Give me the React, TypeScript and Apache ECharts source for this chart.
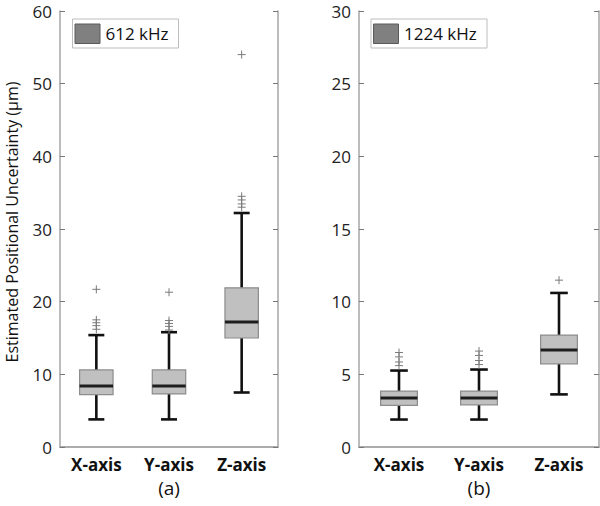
import React, { useEffect, useRef } from "react";
import * as echarts from "echarts";

const categories = ["X-axis", "Y-axis", "Z-axis"];

// [min, q1, median, q3, max]
const box612 = [
  [3.8, 7.2, 8.4, 10.6, 15.4],
  [3.8, 7.3, 8.4, 10.6, 15.8],
  [7.5, 15.0, 17.2, 21.9, 32.2],
];
const outliers612 = [
  [21.7, 17.5, 17.1, 16.7, 16.2],
  [21.3, 17.4, 17.0, 16.6, 16.1],
  [54.0, 34.5, 34.0, 33.45, 33.0],
];

const box1224 = [
  [1.89, 2.87, 3.37, 3.85, 5.26],
  [1.89, 2.9, 3.37, 3.85, 5.33],
  [3.62, 5.72, 6.68, 7.7, 10.6],
];
const outliers1224 = [
  [6.5, 6.2, 5.85, 5.6],
  [6.6, 6.3, 5.95, 5.67],
  [11.48],
];

const ticks612 = { min: 0, max: 60, interval: 10 };
const ticks1224 = { min: 0, max: 30, interval: 5 };

const legendLabels = ["612 kHz", "1224 kHz"];
const panelLabels = ["(a)", "(b)"];
const yTitle = "Estimated Positional Uncertainty (μm)";

const FONT = "Open Sans";
const FRAME = "#a6a6a6";

function boxRender(params: any, api: any) {
  const idx = api.value(0);
  const lo = api.coord([idx, api.value(1)]);
  const q1 = api.coord([idx, api.value(2)]);
  const md = api.coord([idx, api.value(3)]);
  const q3 = api.coord([idx, api.value(4)]);
  const hi = api.coord([idx, api.value(5)]);
  const band = api.size([1, 0])[0];
  const bw = band * 0.46;
  const cw = band * 0.22;
  const x = lo[0];
  const black = { stroke: "#111", lineWidth: 2.6 };
  return {
    type: "group",
    children: [
      { type: "line", shape: { x1: x, y1: q3[1], x2: x, y2: hi[1] }, style: black },
      { type: "line", shape: { x1: x, y1: q1[1], x2: x, y2: lo[1] }, style: black },
      { type: "line", shape: { x1: x - cw / 2, y1: hi[1], x2: x + cw / 2, y2: hi[1] }, style: black },
      { type: "line", shape: { x1: x - cw / 2, y1: lo[1], x2: x + cw / 2, y2: lo[1] }, style: black },
      {
        type: "rect",
        shape: { x: x - bw / 2, y: q3[1], width: bw, height: q1[1] - q3[1] },
        style: { fill: "#c0c0c0", stroke: "#8c8c8c", lineWidth: 1.2 },
      },
      {
        type: "line",
        shape: { x1: x - bw / 2, y1: md[1], x2: x + bw / 2, y2: md[1] },
        style: { stroke: "#1e1e1e", lineWidth: 3 },
      },
    ],
  };
}

function plusRender(params: any, api: any) {
  const p = api.coord([api.value(0), api.value(1)]);
  const s = 4;
  const st = { stroke: "#7a7a7a", lineWidth: 1 };
  return {
    type: "group",
    children: [
      { type: "line", shape: { x1: p[0] - s, y1: p[1], x2: p[0] + s, y2: p[1] }, style: st },
      { type: "line", shape: { x1: p[0], y1: p[1] - s, x2: p[0], y2: p[1] + s }, style: st },
    ],
  };
}

export default function App() {
  const ref = useRef<HTMLDivElement>(null);
  useEffect(() => {
    if (!ref.current) return;
    const chart = echarts.init(ref.current, undefined, { renderer: "svg" });

    const grids = [
      { left: 60, top: 11, width: 218, height: 436 },
      { left: 359, top: 11, width: 240, height: 436 },
    ];
    const ticks = [ticks612, ticks1224];
    const boxes = [box612, box1224];
    const outs = [outliers612, outliers1224];

    const xAxes: any[] = [];
    const yAxes: any[] = [];
    const series: any[] = [];

    grids.forEach((g, i) => {
      xAxes.push({
        type: "category",
        gridIndex: i,
        data: categories,
        position: "bottom",
        axisLine: { lineStyle: { color: FRAME, width: 1.5 } },
        axisTick: { inside: true, alignWithLabel: true, length: 5, lineStyle: { color: "#777" } },
        axisLabel: { fontFamily: FONT, fontSize: 17, fontWeight: "bold", color: "#111", margin: 9 },
      });
      xAxes.push({
        type: "category",
        gridIndex: i,
        data: categories,
        position: "top",
        axisLine: { lineStyle: { color: FRAME, width: 1.5 } },
        axisTick: { inside: true, alignWithLabel: true, length: 5, lineStyle: { color: "#777" } },
        axisLabel: { show: false },
      });
      yAxes.push({
        type: "value",
        gridIndex: i,
        position: "left",
        min: ticks[i].min,
        max: ticks[i].max,
        interval: ticks[i].interval,
        axisLine: { show: true, lineStyle: { color: FRAME, width: 1.5 } },
        axisTick: { show: true, inside: true, length: 5, lineStyle: { color: "#777" } },
        axisLabel: { fontFamily: FONT, fontSize: 17, color: "#222", margin: 8 },
        splitLine: { show: false },
      });
      yAxes.push({
        type: "value",
        gridIndex: i,
        position: "right",
        min: ticks[i].min,
        max: ticks[i].max,
        interval: ticks[i].interval,
        axisLine: { show: true, lineStyle: { color: FRAME, width: 1.5 } },
        axisTick: { show: true, inside: true, length: 5, lineStyle: { color: "#777" } },
        axisLabel: { show: false },
        splitLine: { show: false },
      });
      series.push({
        type: "custom",
        xAxisIndex: i * 2,
        yAxisIndex: i * 2,
        renderItem: boxRender,
        data: boxes[i].map((b, k) => [k, ...b]),
        encode: { x: 0, y: [1, 2, 3, 4, 5] },
      });
      const pts: number[][] = [];
      outs[i].forEach((arr, k) => arr.forEach((v) => pts.push([k, v])));
      series.push({
        type: "custom",
        xAxisIndex: i * 2,
        yAxisIndex: i * 2,
        renderItem: plusRender,
        data: pts,
        encode: { x: 0, y: 1 },
      });
    });

    const legendBox = (x: number, y: number, w: number, h: number, label: string) => ({
      type: "group",
      children: [
        {
          type: "rect",
          shape: { x, y, width: w, height: h },
          style: { fill: "#fff", stroke: "#bdbdbd", lineWidth: 1 },
        },
        {
          type: "rect",
          shape: { x: x + 2.5, y: y + 5, width: 25, height: 19.5 },
          style: { fill: "#808080", stroke: "#5a5a5a", lineWidth: 1 },
        },
        {
          type: "text",
          x: x + 33,
          y: y + h / 2,
          style: {
            text: label,
            fontFamily: FONT,
            fontSize: 17,
            fill: "#111",
            verticalAlign: "middle",
            align: "left",
          },
        },
      ],
    });

    chart.setOption({
      animation: false,
      backgroundColor: "#fff",
      grid: grids,
      xAxis: xAxes,
      yAxis: yAxes,
      series,
      graphic: [
        legendBox(72.5, 19, 106, 29, legendLabels[0]),
        legendBox(371, 19, 116, 29, legendLabels[1]),
        {
          type: "text",
          x: 12,
          y: 222,
          rotation: Math.PI / 2,
          style: {
            text: yTitle,
            fontFamily: FONT,
            fontSize: 16,
            fill: "#111",
            align: "center",
            verticalAlign: "middle",
          },
        },
        {
          type: "text",
          x: 169,
          y: 488,
          style: { text: panelLabels[0], fontFamily: FONT, fontSize: 19, fill: "#111", align: "center", verticalAlign: "middle" },
        },
        {
          type: "text",
          x: 479,
          y: 488,
          style: { text: panelLabels[1], fontFamily: FONT, fontSize: 19, fill: "#111", align: "center", verticalAlign: "middle" },
        },
      ],
    });
    return () => chart.dispose();
  }, []);
  return (
    <div
      ref={ref}
      style={{ position: "absolute", left: 0, top: 0, width: 600, height: 506 }}
    />
  );
}
